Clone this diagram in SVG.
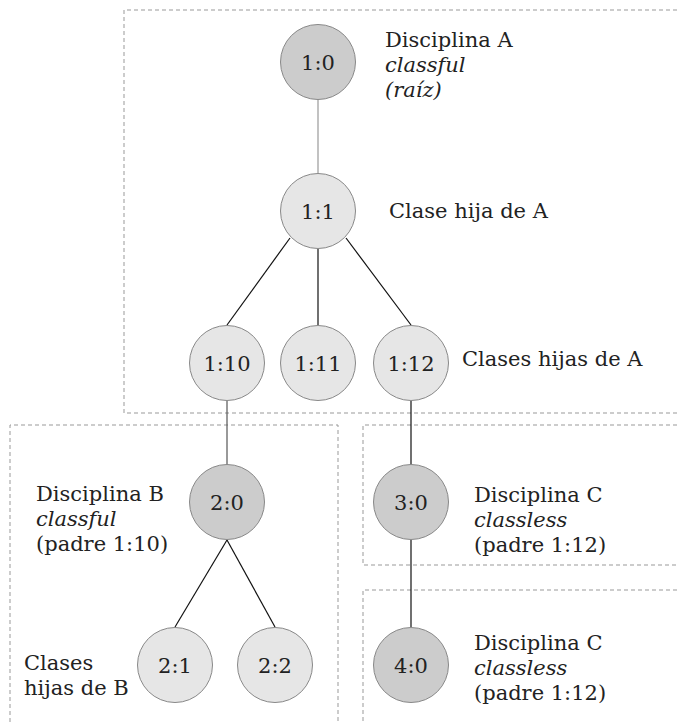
<svg xmlns="http://www.w3.org/2000/svg" width="677" height="722" viewBox="0 0 677 722">
<style>
text{font-family:"DejaVu Serif",serif;font-size:21px;fill:#222}
.n{text-anchor:middle}
.i{font-style:italic}
.box{fill:none;stroke:#999;stroke-width:1;stroke-dasharray:4,3}
.dk{fill:#cccccc;stroke:#888;stroke-width:1}
.lt{fill:#e6e6e6;stroke:#888;stroke-width:1}
.c{stroke:#111;stroke-width:1.2;fill:none}
.g{stroke:#999;stroke-width:1.2;fill:none}
.g2{stroke:#555;stroke-width:1.2;fill:none}
</style>
<rect width="677" height="722" fill="#fff"/>
<g id="boxes">
<path class="box" d="M677,10 H124 V413 H677"/>
<path class="box" d="M10,722 V425 H338 V722"/>
<path class="box" d="M677,425 H363 V565 H677"/>
<path class="box" d="M677,590 H363 V722"/>
</g>
<g id="connectors">
<line class="g" x1="318" y1="100" x2="318" y2="173"/>
<line class="c" x1="290" y1="238" x2="227" y2="325"/>
<line class="c" x1="318" y1="249" x2="318" y2="325"/>
<line class="c" x1="346" y1="238" x2="411" y2="325"/>
<line class="g2" x1="227" y1="401" x2="227" y2="465"/>
<line class="c" x1="411" y1="401" x2="411" y2="465"/>
<line class="c" x1="227" y1="540" x2="175" y2="627"/>
<line class="c" x1="227" y1="540" x2="275" y2="627"/>
<line class="c" x1="411" y1="540" x2="411" y2="627"/>
</g>
<g id="n10"><circle class="dk" cx="318" cy="62" r="37.5"/><text class="n" x="318" y="69.5">1:0</text></g>
<g id="n11"><circle class="lt" cx="318" cy="211" r="37.5"/><text class="n" x="318" y="218.5">1:1</text></g>
<g id="n110"><circle class="lt" cx="227" cy="363" r="37.5"/><text class="n" x="227" y="370.5">1:10</text></g>
<g id="n111"><circle class="lt" cx="318" cy="363" r="37.5"/><text class="n" x="318" y="370.5">1:11</text></g>
<g id="n112"><circle class="lt" cx="411" cy="363" r="37.5"/><text class="n" x="411" y="370.5">1:12</text></g>
<g id="n20"><circle class="dk" cx="227" cy="502" r="37.5"/><text class="n" x="227" y="509.5">2:0</text></g>
<g id="n30"><circle class="dk" cx="411" cy="502" r="37.5"/><text class="n" x="411" y="509.5">3:0</text></g>
<g id="n21"><circle class="lt" cx="175" cy="665" r="37.5"/><text class="n" x="175" y="672.5">2:1</text></g>
<g id="n22"><circle class="lt" cx="275" cy="665" r="37.5"/><text class="n" x="275" y="672.5">2:2</text></g>
<g id="n40"><circle class="dk" cx="411" cy="665" r="37.5"/><text class="n" x="411" y="672.5">4:0</text></g>
<g id="labels">
<text x="385" y="47">Disciplina A</text>
<text x="385" y="72" class="i">classful</text>
<text x="385" y="97" class="i">(raíz)</text>
<text x="389" y="218">Clase hija de A</text>
<text x="462" y="366">Clases hijas de A</text>
<text x="36" y="501">Disciplina B</text>
<text x="36" y="526" class="i">classful</text>
<text x="36" y="551">(padre 1:10)</text>
<text x="474" y="502">Disciplina C</text>
<text x="474" y="527" class="i">classless</text>
<text x="474" y="552">(padre 1:12)</text>
<text x="474" y="650">Disciplina C</text>
<text x="474" y="675" class="i">classless</text>
<text x="474" y="700">(padre 1:12)</text>
<text x="24" y="670">Clases</text>
<text x="24" y="695">hijas de B</text>
</g>
</svg>
